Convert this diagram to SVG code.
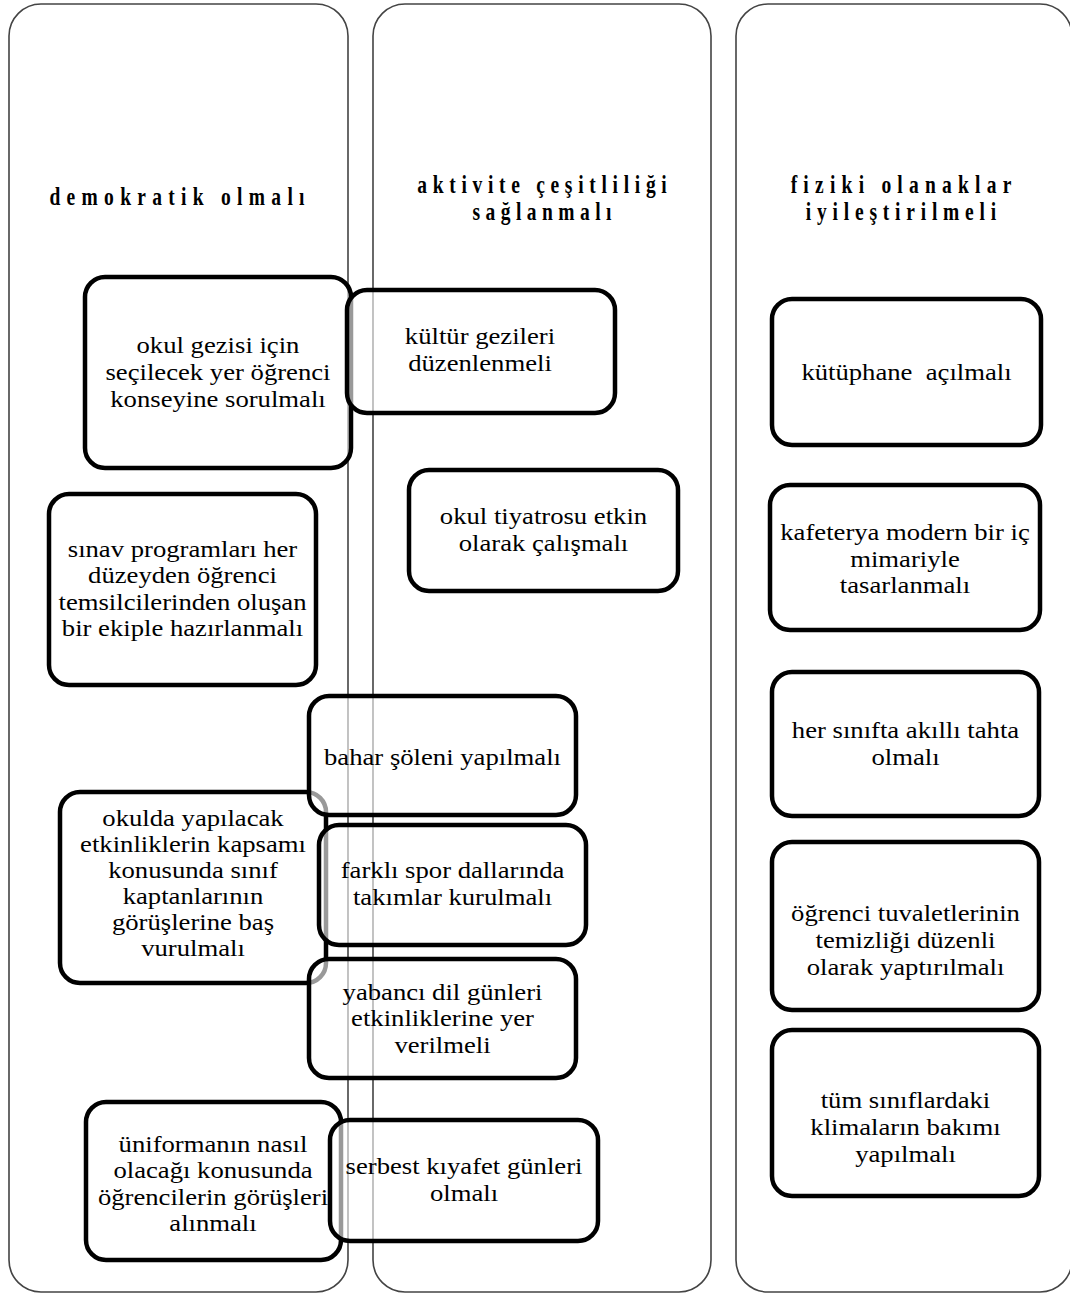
<svg xmlns="http://www.w3.org/2000/svg" width="1070" height="1293" viewBox="0 0 1070 1293">
<style>
.col{fill:none;stroke:#444;stroke-width:1.6}
.box{fill:#fff;fill-opacity:0.6;stroke:#000;stroke-width:4.5}
.t{font-family:"Liberation Serif","Times New Roman",serif;font-size:23px;fill:#000;text-anchor:middle}
.h{font-family:"Liberation Serif","Times New Roman",serif;font-size:25px;font-weight:bold;fill:#000;text-anchor:middle}
</style>
<rect width="1070" height="1293" fill="#fff"/>
<g id="columns">
<g id="col1"><rect class="col" x="9" y="4" width="339" height="1288" rx="32"/>
<text class="h" transform="translate(177 0) scale(0.78 1)"><tspan x="0" y="205" textLength="327" lengthAdjust="spacing">demokratik olmalı</tspan></text></g>
<g id="col2"><rect class="col" x="373" y="4" width="338" height="1288" rx="32"/>
<text class="h" transform="translate(542 0) scale(0.78 1)"><tspan x="0" y="193" textLength="320" lengthAdjust="spacing">aktivite çeşitliliği</tspan><tspan x="0" y="220" textLength="178" lengthAdjust="spacing">sağlanmalı</tspan></text></g>
<g id="col3"><rect class="col" x="736" y="4" width="336" height="1288" rx="32"/>
<text class="h" transform="translate(901 0) scale(0.78 1)"><tspan x="0" y="193" textLength="283" lengthAdjust="spacing">fiziki olanaklar</tspan><tspan x="0" y="220" textLength="244" lengthAdjust="spacing">iyileştirilmeli</tspan></text></g>
</g>
<g id="connectors"></g>
<g id="n1"><rect class="box" x="85" y="277" width="266" height="191" rx="20"/>
<text class="t" transform="translate(218 0) scale(1.16 1)"><tspan x="0" y="353">okul gezisi için</tspan><tspan x="0" y="380">seçilecek yer öğrenci</tspan><tspan x="0" y="407">konseyine sorulmalı</tspan></text></g>
<g id="n2"><rect class="box" x="49" y="494" width="267" height="191" rx="20"/>
<text class="t" transform="translate(182.5 0) scale(1.16 1)"><tspan x="0" y="557">sınav programları her</tspan><tspan x="0" y="583.5">düzeyden öğrenci</tspan><tspan x="0" y="610">temsilcilerinden oluşan</tspan><tspan x="0" y="636.5">bir ekiple hazırlanmalı</tspan></text></g>
<g id="n3"><rect class="box" x="60" y="792" width="266" height="191" rx="20"/>
<text class="t" transform="translate(193 0) scale(1.16 1)"><tspan x="0" y="826">okulda yapılacak</tspan><tspan x="0" y="852">etkinliklerin kapsamı</tspan><tspan x="0" y="878">konusunda sınıf</tspan><tspan x="0" y="904">kaptanlarının</tspan><tspan x="0" y="930">görüşlerine baş</tspan><tspan x="0" y="956">vurulmalı</tspan></text></g>
<g id="n4"><rect class="box" x="86" y="1102" width="255" height="158" rx="20"/>
<text class="t" transform="translate(213 0) scale(1.16 1)"><tspan x="0" y="1152">üniformanın nasıl</tspan><tspan x="0" y="1178.5">olacağı konusunda</tspan><tspan x="0" y="1205">öğrencilerin görüşleri</tspan><tspan x="0" y="1231.5">alınmalı</tspan></text></g>
<g id="n5"><rect class="box" x="347" y="290" width="268" height="123" rx="20"/>
<text class="t" transform="translate(480 0) scale(1.16 1)"><tspan x="0" y="344">kültür gezileri</tspan><tspan x="0" y="371">düzenlenmeli</tspan></text></g>
<g id="n6"><rect class="box" x="409" y="470" width="269" height="121" rx="20"/>
<text class="t" transform="translate(543.5 0) scale(1.16 1)"><tspan x="0" y="524">okul tiyatrosu etkin</tspan><tspan x="0" y="551">olarak çalışmalı</tspan></text></g>
<g id="n7"><rect class="box" x="309" y="696" width="267" height="119" rx="20"/>
<text class="t" transform="translate(442.5 0) scale(1.16 1)"><tspan x="0" y="765">bahar şöleni yapılmalı</tspan></text></g>
<g id="n8"><rect class="box" x="319" y="825" width="267" height="120" rx="20"/>
<text class="t" transform="translate(452.5 0) scale(1.16 1)"><tspan x="0" y="878">farklı spor dallarında</tspan><tspan x="0" y="905">takımlar kurulmalı</tspan></text></g>
<g id="n9"><rect class="box" x="309" y="959" width="267" height="119" rx="20"/>
<text class="t" transform="translate(442.5 0) scale(1.16 1)"><tspan x="0" y="1000">yabancı dil günleri</tspan><tspan x="0" y="1026.5">etkinliklerine yer</tspan><tspan x="0" y="1053">verilmeli</tspan></text></g>
<g id="n10"><rect class="box" x="330" y="1120" width="268" height="121" rx="20"/>
<text class="t" transform="translate(464 0) scale(1.16 1)"><tspan x="0" y="1174">serbest kıyafet günleri</tspan><tspan x="0" y="1201">olmalı</tspan></text></g>
<g id="n11"><rect class="box" x="772" y="299" width="269" height="146" rx="20"/>
<text class="t" transform="translate(906.5 0) scale(1.16 1)"><tspan x="0" y="380">kütüphane&#160; açılmalı</tspan></text></g>
<g id="n12"><rect class="box" x="770" y="485" width="270" height="145" rx="20"/>
<text class="t" transform="translate(905 0) scale(1.16 1)"><tspan x="0" y="540.5">kafeterya modern bir iç</tspan><tspan x="0" y="567">mimariyle</tspan><tspan x="0" y="593.5">tasarlanmalı</tspan></text></g>
<g id="n13"><rect class="box" x="772" y="672" width="267" height="144" rx="20"/>
<text class="t" transform="translate(905.5 0) scale(1.16 1)"><tspan x="0" y="738">her sınıfta akıllı tahta</tspan><tspan x="0" y="765">olmalı</tspan></text></g>
<g id="n14"><rect class="box" x="772" y="842" width="267" height="168" rx="20"/>
<text class="t" transform="translate(905.5 0) scale(1.16 1)"><tspan x="0" y="921">öğrenci tuvaletlerinin</tspan><tspan x="0" y="948">temizliği düzenli</tspan><tspan x="0" y="975">olarak yaptırılmalı</tspan></text></g>
<g id="n15"><rect class="box" x="772" y="1030" width="267" height="166" rx="20"/>
<text class="t" transform="translate(905.5 0) scale(1.16 1)"><tspan x="0" y="1108">tüm sınıflardaki</tspan><tspan x="0" y="1135">klimaların bakımı</tspan><tspan x="0" y="1162">yapılmalı</tspan></text></g>
</svg>
